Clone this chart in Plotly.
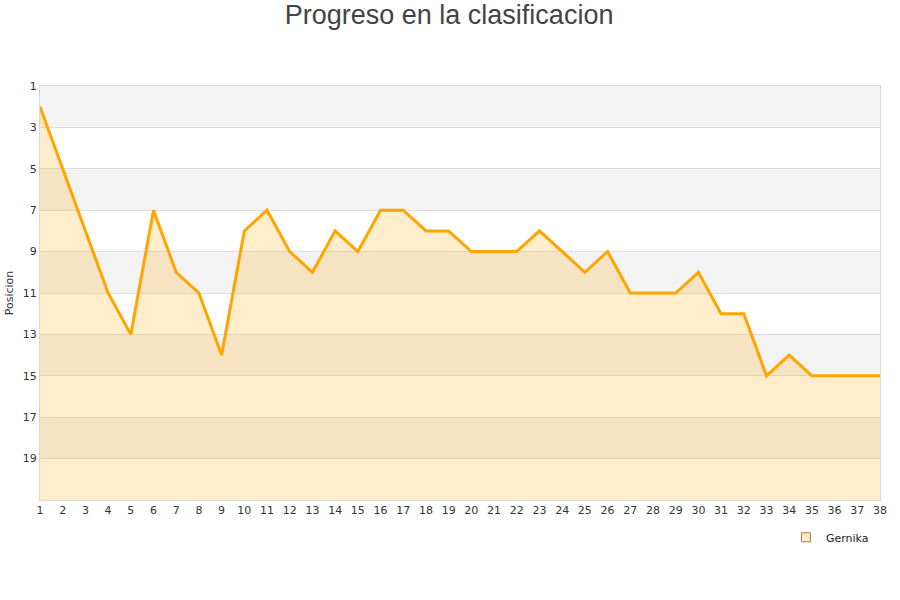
import plotly.graph_objects as go

jornadas = list(range(1, 39))
posiciones = [2, 5, 8, 11, 13, 7, 10, 11, 14, 8, 7, 9, 10, 8, 9, 7, 7, 8, 8, 9,
              9, 9, 8, 9, 10, 9, 11, 11, 11, 10, 12, 12, 15, 14, 15, 15, 15, 15]
y_ticks = [1, 3, 5, 7, 9, 11, 13, 15, 17, 19]
team = "Gernika"
baseline = [21] * len(jornadas)

fig = go.Figure()

# gray alternating bands
shapes = []
for lo in [1, 5, 9, 13, 17]:
    shapes.append(dict(type="rect", xref="paper", yref="y", x0=0, x1=1, y0=lo, y1=lo + 2,
                       fillcolor="#f3f3f3", line=dict(width=0), layer="below"))

fig.add_trace(go.Scatter(x=jornadas, y=baseline, mode="lines", line=dict(width=0),
                         showlegend=False, hoverinfo="skip"))
fig.add_trace(go.Scatter(x=jornadas, y=posiciones, mode="lines", fill="tonexty",
                         fillcolor="rgba(255,165,0,0.2)",
                         line=dict(color="#ffa500", width=3), name=team, showlegend=False))
fig.add_trace(go.Scatter(x=[None], y=[None], mode="markers", name=team,
                         marker=dict(symbol="square", size=9, color="#fde9c5",
                                     line=dict(color="#a08060", width=1))))

fig.update_layout(
    width=900, height=600,
    margin=dict(l=40, r=20, t=86, b=100),
    paper_bgcolor="white", plot_bgcolor="white",
    title=dict(text="Progreso en la clasificacion", x=0.499, xanchor="center", y=0.975, yanchor="middle",
               font=dict(family="Liberation Sans, Arial", size=27, color="#444444")),
    font=dict(family="DejaVu Sans", size=11, color="#444444"),
    shapes=shapes,
    showlegend=True,
    legend=dict(orientation="h", x=0.888, xanchor="left", y=-0.09, yanchor="middle",
                itemwidth=30, font=dict(size=11, color="#222222"), bgcolor="rgba(0,0,0,0)"),
    xaxis=dict(range=[1, 38], tickvals=jornadas, ticktext=[str(j) for j in jornadas],
               showgrid=False, zeroline=False, showline=True, linecolor="#d8d8d8", mirror=True,
               ticks="", automargin=False, tickfont=dict(size=11, color="#333333")),
    yaxis=dict(range=[21, 1], tickvals=y_ticks, showgrid=True, gridcolor="#dedede",
               zeroline=False, showline=True, linecolor="#d8d8d8", mirror=True, ticks="",
               automargin=False, tickfont=dict(size=11, color="#333333"),
               title=dict(text="Posicion", font=dict(size=11, color="#333333"), standoff=6)),
)

fig.write_html("out.html", post_script="document.body.style.margin='0';",
               config={"displayModeBar": False})
